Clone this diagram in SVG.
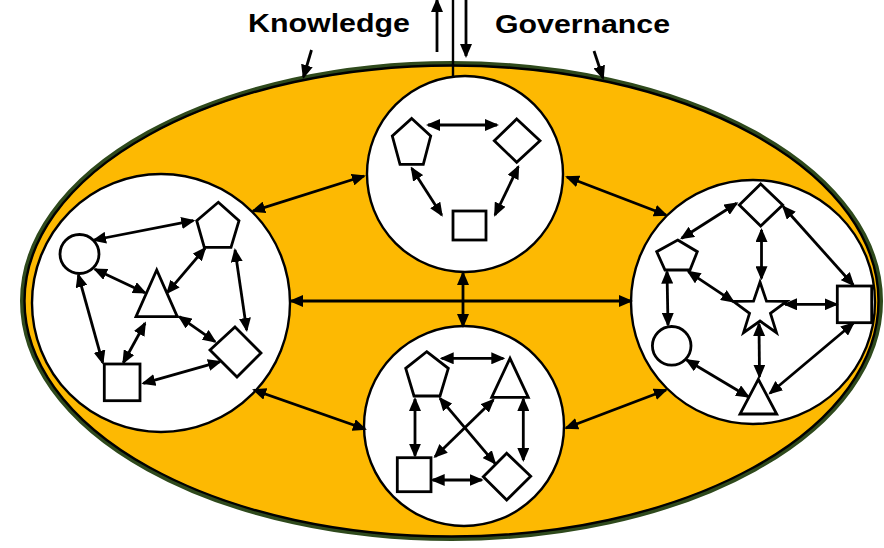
<svg xmlns="http://www.w3.org/2000/svg" width="884" height="548" viewBox="0 0 884 548">
<style>
.node{fill:#fff;stroke:#000;stroke-width:2.8}
.big{fill:#fff;stroke:#000;stroke-width:2.4}
.con{fill:none;stroke:#000;stroke-width:2.8;marker-start:url(#ah);marker-end:url(#ah)}
.one{fill:none;stroke:#000;stroke-width:2.8;marker-end:url(#ah)}
.lbl{font-family:"Liberation Sans",Arial,sans-serif;font-weight:bold;font-size:26px;fill:#000}
</style>
<defs>
<marker id="ah" markerUnits="userSpaceOnUse" markerWidth="14" markerHeight="12" refX="12" refY="6" orient="auto-start-reverse" viewBox="0 0 14 12">
<path d="M0,0 L14,6 L0,12 z" fill="#000"/>
</marker>
</defs>
<rect width="884" height="548" fill="#fff"/>
<g id="ecosystem">
<ellipse cx="451.5" cy="301" rx="429" ry="237.5" fill="#FDB902" stroke="#2f4a1c" stroke-width="5"/>
<ellipse cx="451.5" cy="301" rx="427" ry="235.5" fill="none" stroke="#000" stroke-width="2.4"/>
</g>
<g id="labels">
<text class="lbl" x="248" y="32" textLength="162" lengthAdjust="spacingAndGlyphs">Knowledge</text>
<text class="lbl" x="495" y="33" textLength="175" lengthAdjust="spacingAndGlyphs">Governance</text>
</g>
<g id="top-flows">
<line x1="453" y1="0" x2="453" y2="77" stroke="#000" stroke-width="2.4"/>
<line class="one" x1="437" y1="52" x2="437" y2="0"/>
<line class="one" x1="466" y1="0" x2="466" y2="56"/>
<line class="one" x1="311.5" y1="50" x2="303.5" y2="77"/>
<line class="one" x1="594" y1="51" x2="603" y2="78"/>
</g>
<g id="cluster-top">
<circle class="big" cx="465" cy="174" r="98"/>
<polygon class="node" points="411.7,118.5 430.7,136 423.3,164.3 400,164.3 392.3,136"/>
<polygon class="node" points="516.7,119 540,140.7 516.7,162.3 494.3,140.7"/>
<rect class="node" x="453" y="211" width="33" height="29"/>
</g>
<g id="cluster-left">
<circle class="big" cx="161" cy="303" r="129"/>
<circle class="node" cx="79.5" cy="254" r="19.5"/>
<polygon class="node" points="218.3,202.3 239,220.7 231,247.3 204.3,247.3 196.7,220.7"/>
<polygon class="node" points="156.7,270 136,316.7 177.3,316.7"/>
<polygon class="node" points="235,327 261,353 237,377 210,350"/>
<rect class="node" x="104.3" y="364" width="35.7" height="36.7"/>
</g>
<g id="cluster-right">
<circle class="big" cx="753" cy="302" r="122"/>
<polygon class="node" points="760.7,184 782.7,205 760.7,226 739.3,205"/>
<polygon class="node" points="677.7,240 697.3,251.7 690,270 665,270 656.7,251.7"/>
<rect class="node" x="837.3" y="286" width="34.4" height="36.7"/>
<polygon class="node" points="760,282 766.47,301.1 786.63,301.35 770.46,313.4 776.46,332.65 760,321 743.54,332.65 749.54,313.4 733.37,301.35 753.53,301.1"/>
<circle class="node" cx="671.7" cy="345.8" r="19.3"/>
<polygon class="node" points="758.3,379.3 740,414 776.7,414"/>
</g>
<g id="cluster-bottom">
<circle class="big" cx="464" cy="426" r="100"/>
<polygon class="node" points="426.7,351.7 448.3,368.3 440,396 414,396 405.7,368.3"/>
<polygon class="node" points="510,358.3 491.7,397.3 528.3,397.3"/>
<rect class="node" x="397.3" y="457.7" width="33.7" height="34"/>
<polygon class="node" points="506.7,453.3 530.7,476.2 506.7,500 483.3,476.7"/>
</g>
<g id="connectors">
<line class="con" x1="253" y1="211" x2="364" y2="176"/>
<line class="con" x1="567" y1="177" x2="666" y2="215"/>
<line class="con" x1="291" y1="301" x2="631" y2="301"/>
<line class="con" x1="463" y1="273" x2="463" y2="326"/>
<line class="con" x1="254" y1="390" x2="365" y2="429"/>
<line class="con" x1="566" y1="428" x2="666" y2="390"/>
<line class="con" x1="428" y1="125" x2="497" y2="125"/>
<line class="con" x1="411.7" y1="168.3" x2="441.7" y2="215"/>
<line class="con" x1="518.3" y1="166.7" x2="495" y2="215"/>
<line class="con" x1="94" y1="240" x2="193.3" y2="220.7"/>
<line class="con" x1="95" y1="269.3" x2="145" y2="292.7"/>
<line class="con" x1="205" y1="248.3" x2="167.3" y2="292.7"/>
<line class="con" x1="235" y1="250" x2="246.7" y2="330"/>
<line class="con" x1="78.3" y1="275" x2="102.7" y2="362.7"/>
<line class="con" x1="145" y1="323.3" x2="123.3" y2="362.7"/>
<line class="con" x1="179.3" y1="316.7" x2="215" y2="341.7"/>
<line class="con" x1="143.3" y1="383.3" x2="220" y2="361.7"/>
<line class="con" x1="736.7" y1="203.3" x2="681.7" y2="238.3"/>
<line class="con" x1="761.5" y1="230" x2="761.5" y2="278.3"/>
<line class="con" x1="783.3" y1="206.7" x2="853.3" y2="285"/>
<line class="con" x1="688.3" y1="271.7" x2="733.3" y2="301.7"/>
<line class="con" x1="667" y1="271.7" x2="668" y2="325"/>
<line class="con" x1="785" y1="304.3" x2="836.7" y2="304.3"/>
<line class="con" x1="759" y1="324" x2="759.5" y2="376.7"/>
<line class="con" x1="686.7" y1="360" x2="748.3" y2="396.7"/>
<line class="con" x1="853.3" y1="323.3" x2="770" y2="393.3"/>
<line class="con" x1="441.7" y1="358.3" x2="503.3" y2="358.3"/>
<line class="con" x1="415" y1="399" x2="415" y2="455.7"/>
<line class="con" x1="523.3" y1="399" x2="523.3" y2="460"/>
<line class="con" x1="432.7" y1="480" x2="481.7" y2="480"/>
<line class="con" x1="440" y1="398.3" x2="495" y2="463.3"/>
<line class="con" x1="493.3" y1="400" x2="435" y2="456.7"/>
</g>
</svg>
